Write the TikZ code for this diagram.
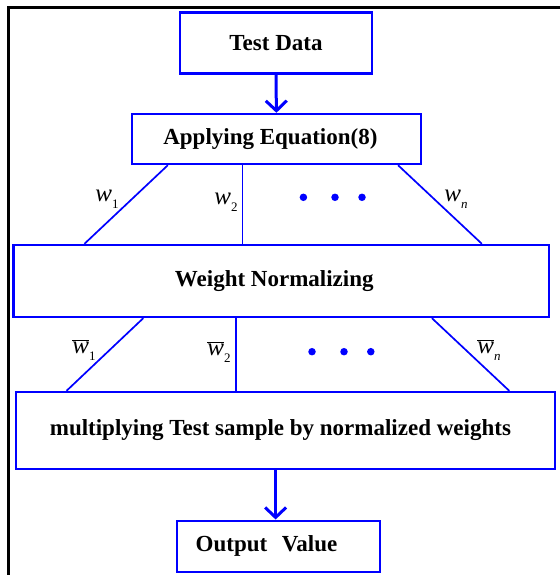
\documentclass[tikz,border=0pt]{standalone}
\usepackage{fontspec}
\setmainfont{Liberation Serif}
\usetikzlibrary{arrows.meta}

% italic weight labels with a lowered subscript
\newcommand\wlab[1]{{\fontsize{25}{25}\selectfont\itshape w}\raisebox{-7pt}{\fontsize{13}{13}\selectfont #1}}
\newcommand\wbarlab[1]{$\overline{\hbox{\fontsize{25}{25}\selectfont\itshape w}}$\raisebox{-7pt}{\fontsize{13}{13}\selectfont #1}}

\definecolor{pureblue}{RGB}{0,0,255}

\tikzset{
  stagebox/.style={draw=pureblue, line width=2.4pt, inner sep=0pt,
    font=\fontsize{23}{24}\selectfont\bfseries, text=black},
  branch/.style={draw=pureblue, line width=1.7pt},
  flowarrow/.style={draw=pureblue, line width=3pt,
    -{Straight Barb[length=10pt, width=21pt, line width=3pt]}},
  wtag/.style={inner sep=0pt, text=black},
  ellipsisdot/.style={circle, fill=pureblue, inner sep=0pt, minimum size=7.5pt}
}

\begin{document}
\begin{tikzpicture}[x=1pt, y=-1pt]
\useasboundingbox (0,0) rectangle (559,575);

% outer frame (left and top edges)
\draw[line width=3pt, line cap=rect] (8.5,580) -- (8.5,7.5) -- (565,7.5);

% stages
\node[stagebox, minimum width=192pt, minimum height=61pt] (test) at (276,43) {Test Data};
\node[stagebox, minimum width=288.7pt, minimum height=50pt] (apply) at (276.4,139) {Applying Equation(8)\hspace*{12pt}};
\node[stagebox, minimum width=535.5pt, minimum height=72pt] (norm) at (281.3,281) {Weight Normalizing\hspace*{14pt}};
\node[stagebox, minimum width=539.3pt, minimum height=77pt] (mult) at (285.4,430.5) {multiplying Test sample by normalized weights\hspace*{10pt}};
\node[stagebox, minimum width=203pt, minimum height=51pt] (out) at (278.5,546.2) {Output\hspace{14.6pt}Value\hspace*{24pt}};

% arrows between stages
\draw[flowarrow] (test.south) -- (apply.north);
\draw[flowarrow] (mult.south -| 275.6,0) -- (out.north -| 275.6,0);

% raw weights
\draw[branch] ([xshift=37pt]apply.south west) -- ([xshift=72.1pt]norm.north west);
\draw[branch] ([xshift=111.5pt]apply.south west) -- ([xshift=230pt]norm.north west);
\draw[branch] ([xshift=-23.9pt]apply.south east) -- ([xshift=-68.4pt]norm.north east);

\node[wtag] (w1) at (107,199) {\wlab{1}};
\node[wtag] (w2) at (226,202) {\wlab{2}};
\node[wtag] (wn) at (456,199) {\wlab{\itshape n}};

\node[ellipsisdot] (d1) at (303.4,197.3) {};
\node[ellipsisdot] (d2) at (335,197.3) {};
\node[ellipsisdot] (d3) at (362,197.3) {};

% normalized weights
\draw[branch] ([xshift=130.9pt]norm.south west) -- ([xshift=52pt]mult.north west);
\draw[branch] ([xshift=223.5pt]norm.south west) -- ([xshift=221.3pt]mult.north west);
\draw[branch] ([xshift=-118.3pt]norm.south east) -- ([xshift=-47pt]mult.north east);

\node[wtag] (v1) at (84,350) {\wbarlab{1}};
\node[wtag] (v2) at (219,352) {\wbarlab{2}};
\node[wtag] (vn) at (489,350) {\wbarlab{\itshape n}};

\node[ellipsisdot] (e1) at (312,351.7) {};
\node[ellipsisdot] (e2) at (344,351.7) {};
\node[ellipsisdot] (e3) at (370.8,351.7) {};
\end{tikzpicture}
\end{document}
